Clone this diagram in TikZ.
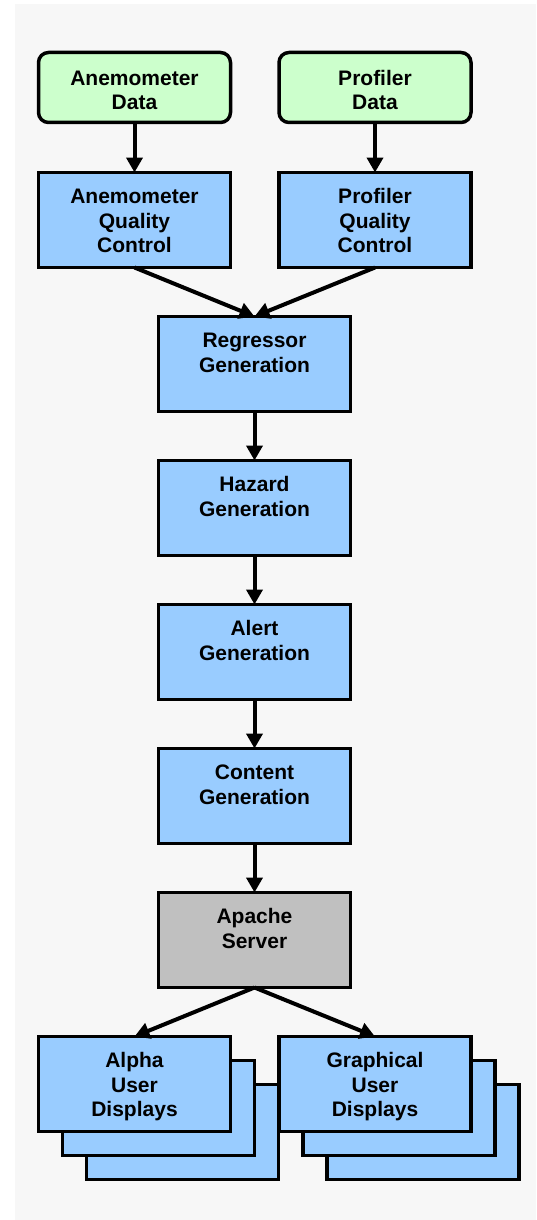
\documentclass[tikz,border=0pt]{standalone}
\usepackage{fontspec}
\setmainfont{Liberation Sans}
\usetikzlibrary{arrows.meta,calc}
\definecolor{bgcol}{HTML}{F7F7F7}
\definecolor{datagreen}{HTML}{CCFFCC}
\definecolor{procblue}{HTML}{99CCFF}
\definecolor{servergray}{HTML}{C0C0C0}
\newcommand{\tb}[1]{\parbox[t][95pt][t]{192pt}{\centering\vspace*{14pt}\fontsize{21}{24.5}\selectfont\bfseries\strut #1}}
\newcommand{\db}[1]{\parbox[t][70pt][t]{192pt}{\centering\vspace*{16.5pt}\fontsize{21}{24}\selectfont\bfseries\strut #1}}
\tikzset{
  basebox/.style={draw=black, line width=3.5pt, inner sep=0pt, outer sep=0pt, anchor=north west, minimum width=192pt, minimum height=95pt},
  databox/.style={basebox, fill=datagreen, rounded corners=10pt, minimum height=70pt},
  procbox/.style={basebox, fill=procblue},
  serverbox/.style={basebox, fill=servergray},
  flow/.style={line width=4pt, -{Triangle[length=15pt,width=16pt]}},
}
\begin{document}
\begin{tikzpicture}[x=1pt,y=-1pt]
\useasboundingbox (0,0) rectangle (536,1220);
\fill[white] (0,0) rectangle (536,1220);
\fill[bgcol] (15,4) rectangle (536,1220);
% sources
\node[databox] (anem) at (38.5,52.5) {\db{Anemometer\\Data}};
\node[databox] (prof) at (279,52.5) {\db{Profiler\\Data}};
% quality control
\node[procbox] (anemqc) at (38.5,172.5) {\tb{Anemometer\\Quality\\Control}};
\node[procbox] (profqc) at (279,172.5) {\tb{Profiler\\Quality\\Control}};
% central column
\node[procbox] (regr) at (158.5,316.5) {\tb{Regressor\\Generation}};
\node[procbox] (haz) at (158.5,460.5) {\tb{Hazard\\Generation}};
\node[procbox] (alert) at (158.5,604.5) {\tb{Alert\\Generation}};
\node[procbox] (content) at (158.5,748.5) {\tb{Content\\Generation}};
\node[serverbox] (apache) at (158.5,892.5) {\tb{Apache\\Server}};
% displays (stacked)
\node[procbox] (alpha3) at (86.5,1084.5) {};
\node[procbox] (alpha2) at (62.5,1060.5) {};
\node[procbox] (alpha) at (38.5,1036.5) {\tb{Alpha\\User\\Displays}};
\node[procbox] (graph3) at (327,1084.5) {};
\node[procbox] (graph2) at (303,1060.5) {};
\node[procbox] (graph) at (279,1036.5) {\tb{Graphical\\User\\Displays}};
% connectors
\draw[flow] (anem.south) -- (anemqc.north);
\draw[flow] (prof.south) -- (profqc.north);
\draw[flow] (anemqc.south) -- (regr.north);
\draw[flow] (profqc.south) -- (regr.north);
\draw[flow] (regr.south) -- (haz.north);
\draw[flow] (haz.south) -- (alert.north);
\draw[flow] (alert.south) -- (content.north);
\draw[flow] (content.south) -- (apache.north);
\draw[flow] (apache.south) -- (alpha.north);
\draw[flow] (apache.south) -- (graph.north);
\end{tikzpicture}
\end{document}
